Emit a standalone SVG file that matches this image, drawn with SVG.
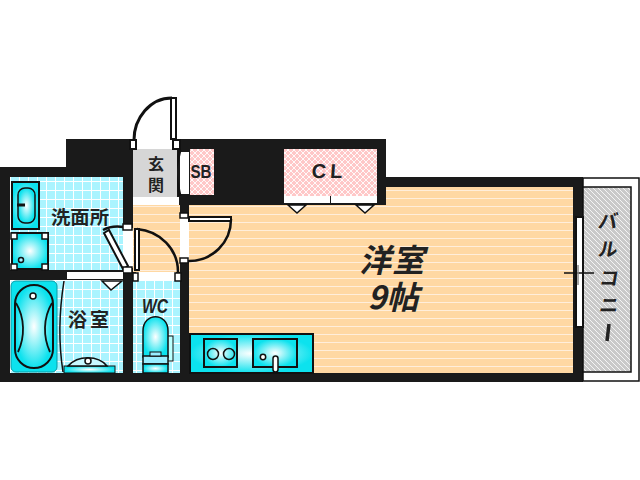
<svg xmlns="http://www.w3.org/2000/svg" width="640" height="480" viewBox="0 0 640 480">
<style>
.k{stroke:#111;fill:none}
.d{stroke:#111;fill:#fff}
.c{stroke:#111;stroke-width:2;fill:url(#cy)}
.t{font-family:"Noto Sans CJK JP","Noto Sans",sans-serif;font-weight:700;fill:#222;text-anchor:middle}
.l{font-family:"Liberation Sans",sans-serif;font-weight:700;fill:#222;text-anchor:middle}
</style>
<defs>
<pattern id="wood" width="8" height="8" patternUnits="userSpaceOnUse" patternTransform="translate(0 6)"><rect width="8" height="8" fill="#ffd8a3"/><rect width="8" height="1" fill="#ffeedb"/></pattern>
<pattern id="tile" width="9" height="9" patternUnits="userSpaceOnUse" patternTransform="translate(1 1)"><rect width="9" height="9" fill="#aaf4ff"/><path d="M0 .5H9M.5 0V9" stroke="#fff" stroke-width="1"/></pattern>
<pattern id="cross" width="6" height="6" patternUnits="userSpaceOnUse"><rect width="6" height="6" fill="#ffc8c8"/><path d="M0 0L6 6M6 0L0 6" stroke="#fff" stroke-width=".9"/></pattern>
<pattern id="hatch" width="5" height="5" patternUnits="userSpaceOnUse"><rect width="5" height="5" fill="#c9c9c9"/><path d="M-1 -1L6 6M-1 4L1 6M4 -1L6 1" stroke="#fff" stroke-width=".8"/></pattern>
<radialGradient id="cy"><stop offset="0" stop-color="#fff"/><stop offset="1" stop-color="#0ce2ee"/></radialGradient>
</defs>

<g id="structure">
<path fill="#1a1a1a" d="M66 139H386V177H583V382H0V167H66Z"/>
</g>

<g id="balcony">
<rect x="583" y="178" width="56" height="203" fill="#fff" stroke="#111" stroke-width="1.5"/>
<rect x="583" y="187" width="48" height="185" fill="url(#hatch)" stroke="#111" stroke-width="1.5"/>
<text class="t" font-size="19" transform="translate(607 228) skewX(-10)">バ</text>
<text class="t" font-size="19" transform="translate(607 256) skewX(-10)">ル</text>
<text class="t" font-size="19" transform="translate(608 285) skewX(-10)">コ</text>
<text class="t" font-size="19" transform="translate(608 312) skewX(-10)">ニ</text>
<path d="M609 324L607 341" stroke="#222" stroke-width="3.5"/>
</g>

<g id="room-western">
<path fill="url(#wood)" d="M189 205H386V187H573V373H189Z"/>
<text class="t" font-size="32" letter-spacing="1" transform="translate(392 272) skewX(-14)">洋室</text>
<text class="t" font-size="32" transform="translate(393 309) skewX(-14)">9帖</text>
</g>

<g id="kitchen">
<rect x="190" y="334" width="123" height="39" fill="url(#cy)" stroke="#111" stroke-width="2"/>
<rect x="204" y="339" width="33" height="28" class="c"/>
<circle cx="213" cy="354" r="5.5" fill="none" stroke="#111" stroke-width="1.5"/>
<circle cx="229" cy="354" r="5.5" fill="none" stroke="#111" stroke-width="1.5"/>
<rect x="253" y="339" width="44" height="28" class="c"/>
<circle cx="263" cy="357" r="2.7" fill="#fff" stroke="#111" stroke-width="1.5"/>
<rect x="273" y="356" width="5" height="16" rx="2.5" fill="#fff" stroke="#111" stroke-width="1.5"/>
</g>

<g id="closet">
<rect x="284" y="149" width="93" height="47" fill="url(#cross)"/>
<rect x="284" y="196" width="46" height="7" fill="#fff"/>
<rect x="331" y="196" width="46" height="7" fill="#fff"/>
<path d="M288 205L297 213L306 205Z" fill="#fff" stroke="#111" stroke-width="1.5"/>
<path d="M356 205L365 213L374 205Z" fill="#fff" stroke="#111" stroke-width="1.5"/>
<text x="329" y="178" class="l" font-size="20" letter-spacing="4" transform="skewX(-4) translate(12 0)">CL</text>
</g>

<g id="shoebox">
<rect x="190" y="149" width="24" height="46" fill="url(#cross)"/>
<text x="201" y="178" class="l" font-size="19" textLength="21" lengthAdjust="spacingAndGlyphs">SB</text>
<rect x="180" y="152" width="9" height="42" fill="#fff"/>
<path d="M180 150L175 172L180 196" fill="none" stroke="#111" stroke-width="3"/>
</g>

<g id="entrance">
<rect x="133" y="149" width="44" height="48" fill="#d6d6d6"/>
<rect x="133" y="197" width="46" height="8" fill="#fff"/>
<rect x="136" y="139" width="36" height="10" fill="#fff"/>
<text class="t" font-size="16" x="156" y="170">玄</text>
<text class="t" font-size="16" x="156" y="191">関</text>
<path class="k" stroke-width="3" d="M134 140C134 118 150 98 172 98"/>
<rect x="171" y="98" width="5" height="41" class="d" stroke-width="2"/>
<rect x="130" y="140" width="6" height="9" fill="#fff" stroke="#111" stroke-width="2"/>
<rect x="173" y="140" width="7" height="9" fill="#fff" stroke="#111" stroke-width="2"/>
</g>

<g id="hall">
<rect x="133" y="205" width="47" height="67" fill="url(#wood)"/>
<rect x="123" y="228" width="10" height="40" fill="#fff"/>
<rect x="180" y="216" width="9" height="44" fill="#fff"/>
</g>

<g id="room-door">
<path class="k" stroke-width="2.5" d="M231 219C231 243 212 261 189 261"/>
<rect x="189" y="217" width="42" height="4" class="d" stroke-width="2"/>
<rect x="180" y="213" width="8" height="5" fill="#fff" stroke="#111" stroke-width="1.5"/>
<rect x="180" y="258" width="8" height="5" fill="#fff" stroke="#111" stroke-width="1.5"/>
</g>

<g id="laundry">
<rect x="10" y="177" width="113" height="93" fill="url(#tile)"/>
<rect x="12" y="182" width="27" height="47" fill="url(#cy)" stroke="#111" stroke-width="2"/>
<rect x="18" y="188" width="17" height="35" rx="7" fill="url(#cy)" stroke="#111" stroke-width="1.5"/>
<path d="M17 205H25" stroke="#111" stroke-width="3"/>
<rect x="12" y="233" width="36" height="36" class="c"/>
<g fill="#fff" stroke="#111" stroke-width="1.5"><rect x="11" y="233" width="6" height="6"/><rect x="42" y="233" width="6" height="6"/><rect x="11" y="264" width="6" height="6"/><rect x="42" y="264" width="6" height="6"/></g>
<circle cx="21" cy="260" r="2.5" fill="#aef" stroke="#111" stroke-width="1.5"/>
<text x="80" y="224" class="t" font-size="18" textLength="58" lengthAdjust="spacingAndGlyphs">洗面所</text>
</g>

<g id="laundry-door">
<path class="k" stroke-width="2.5" d="M103 230C110 226 118 226 124 227"/>
<path d="M104 233L109 230L128 266L123 269Z" fill="#fff" stroke="#111" stroke-width="2"/>
<rect x="123" y="224" width="9" height="6" fill="#fff" stroke="#111" stroke-width="1.5"/>
<rect x="123" y="267" width="9" height="6" fill="#fff" stroke="#111" stroke-width="1.5"/>
</g>

<g id="bath">
<rect x="10" y="280" width="113" height="93" fill="url(#tile)"/>
<rect x="67" y="272" width="56" height="7" fill="#fff"/>
<path d="M102 281L111 290L122 281Z" fill="#fff" stroke="#111" stroke-width="1.5"/>
<rect x="11" y="281" width="46" height="91" rx="5" fill="#0ce2ee" stroke="#0a9aa5"/>
<rect x="15" y="285" width="38" height="83" rx="19" fill="url(#cy)" stroke="#111" stroke-width="2"/>
<path d="M16 303C25 318 25 337 18 352M52 303C43 318 43 337 50 352" class="k" stroke-width="1.8"/>
<circle cx="33" cy="296" r="3" fill="#fff" stroke="#111" stroke-width="1.5"/>
<path class="k" stroke-width="1.5" d="M64 281C59 312 58 340 63 372"/>
<rect x="64" y="366" width="51" height="7" fill="url(#cy)" stroke="#111" stroke-width="1"/>
<path d="M68 366C78 355 98 355 107 366Z" fill="#c8f8ff" stroke="#111" stroke-width="1.5"/>
<circle cx="88" cy="361" r="3" fill="#fff" stroke="#111" stroke-width="1.5"/>
<text class="t" x="90" y="327" font-size="19" letter-spacing="3">浴室</text>
</g>

<g id="wc">
<rect x="133" y="281" width="47" height="92" fill="url(#tile)"/>
<rect x="166" y="336" width="7" height="25" fill="#bff" stroke="#111"/>
<path d="M143 357V331C143 312 168 312 168 331V357Z" fill="url(#cy)" stroke="#111" stroke-width="1.5"/>
<rect x="143" y="356" width="25" height="8" fill="#9ef" stroke="#111" stroke-width="1.5"/>
<rect x="150" y="352" width="11" height="4" fill="#9ef" stroke="#111"/>
<rect x="143" y="364" width="25" height="9" fill="url(#cy)" stroke="#111" stroke-width="1.5"/>
<text x="155" y="313" class="l" font-size="21" textLength="26" lengthAdjust="spacingAndGlyphs" font-style="italic">WC</text>
</g>

<g id="wc-door">
<rect x="136" y="272" width="40" height="9" fill="#fff"/>
<path class="k" stroke-width="2.5" d="M137 229C160 231 178 249 178 272"/>
<rect x="135" y="229" width="4" height="41" class="d" stroke-width="2"/>
<rect x="133" y="273" width="5" height="8" fill="#fff" stroke="#111" stroke-width="1.5"/>
<rect x="175" y="273" width="6" height="8" fill="#fff" stroke="#111" stroke-width="1.5"/>
</g>

<g id="window">
<rect x="576" y="217" width="7" height="110" fill="#fff" stroke="#111" stroke-width="2"/>
<path d="M564 273H594" stroke="#111" stroke-width="1.5"/>
<path d="M578 265V285" stroke="#888" stroke-width="1.5"/>
</g>
</svg>
